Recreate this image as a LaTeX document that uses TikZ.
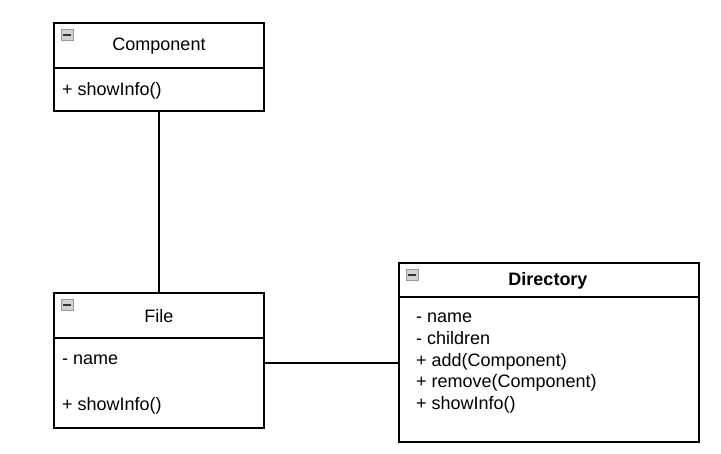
\documentclass[tikz,border=0pt]{standalone}
\usepackage{fontspec}
\setmainfont{Liberation Sans}
\usetikzlibrary{positioning}

\begin{document}
\begin{tikzpicture}[x=1pt, y=-1pt, node distance=0pt,
    every node/.style={font=\fontsize{18}{21.7}\selectfont},
    classbox/.style={rectangle, draw, line width=1.3pt, inner sep=0pt, outer sep=0pt, anchor=north west},
    member/.style={anchor=west, inner sep=0pt, align=left},
    iconbox/.style={rectangle, draw=gray!80, fill=gray!35, minimum width=12pt, minimum height=11pt, inner sep=0pt,
        path picture={\draw[line width=1.5pt, black!80] ([xshift=2pt]path picture bounding box.west) -- ([xshift=-2pt]path picture bounding box.east);}}]
    \useasboundingbox (0,0) rectangle (721,454);

    % Component
    \node[classbox, minimum width=210pt, minimum height=45pt] (comphead) at (54,23) {};
    \node[classbox, minimum width=210pt, minimum height=43pt, below=of comphead] (compbody) {};
    \node[iconbox] (compicon) at (67,35) {};
    \node (comptitle) at (159,46) {Component};
    \node[member] (compshow) at (62,91) {+ showInfo()};

    % File
    \node[classbox, minimum width=210pt, minimum height=45pt] (filehead) at (54,293) {};
    \node[classbox, minimum width=210pt, minimum height=90pt, below=of filehead] (filebody) {};
    \node[iconbox] (fileicon) at (67,305) {};
    \node (filetitle) at (159,316) {File};
    \node[member] (filename) at (62,360) {- name};
    \node[member] (fileshow) at (62,406) {+ showInfo()};

    % Directory
    \node[classbox, minimum width=300pt, minimum height=34pt] (dirhead) at (399,263) {};
    \node[classbox, minimum width=300pt, minimum height=145pt, below=of dirhead] (dirbody) {};
    \node[iconbox] (diricon) at (412,275) {};
    \node (dirtitle) at (548,281) {\textbf{Directory}};
    \node[member, anchor=north west] (dirmembers) at (416,313) {- name\\- children\\+ add(Component)\\+ remove(Component)\\+ showInfo()};

    % Links
    \draw[line width=1.3pt] (compbody) -- (filehead);
    \draw[line width=1.3pt] ([yshift=20pt]filebody.east) -- ([yshift=20pt]filebody.east -| dirbody.west);
\end{tikzpicture}
\end{document}
